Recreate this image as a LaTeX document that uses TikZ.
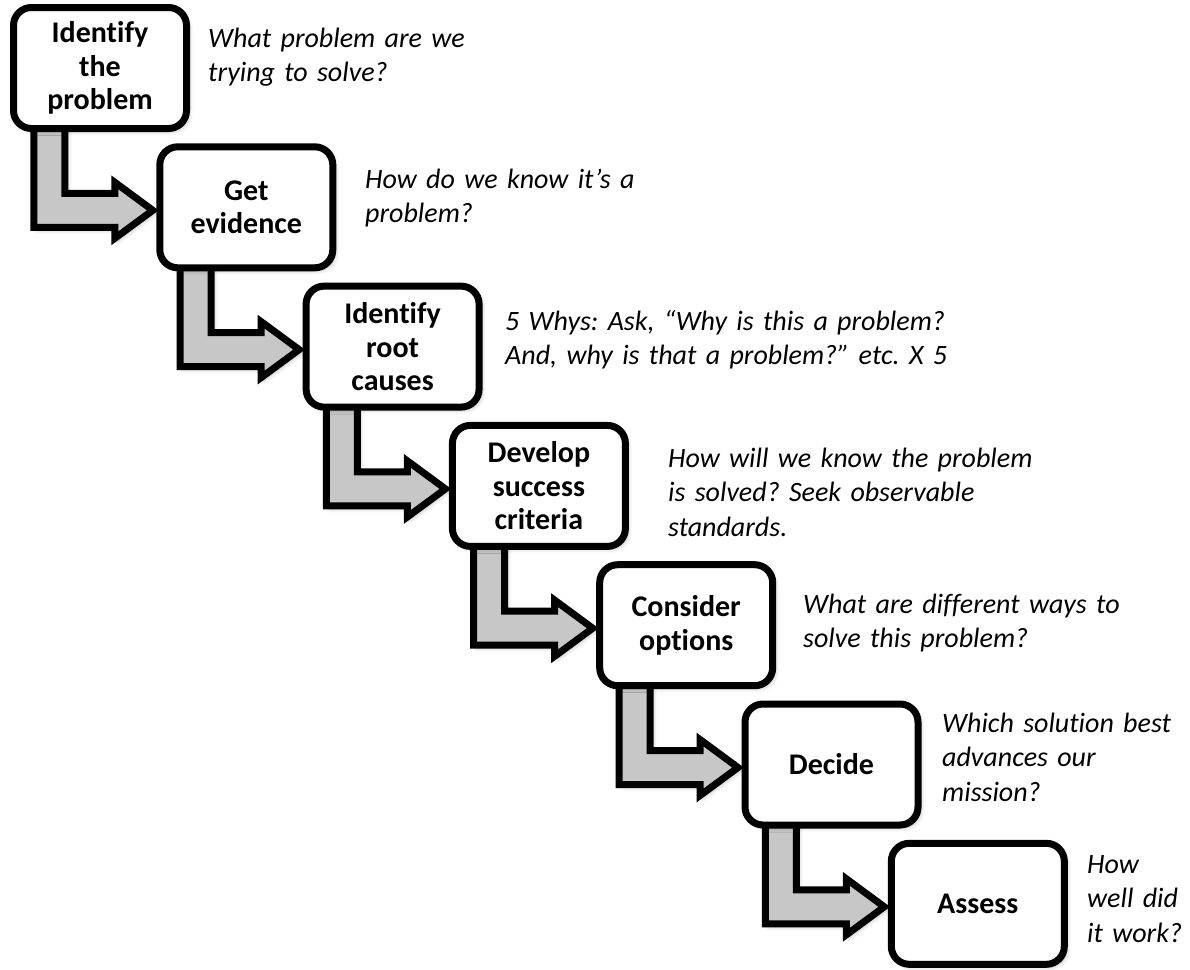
\documentclass[tikz,border=0pt]{standalone}
\usepackage{fontspec}
\setmainfont{Carlito}[Ligatures={TeX,NoCommon},ItalicFeatures={WordSpace=0.8}]
\usetikzlibrary{calc,shadows.blur,backgrounds}
\frenchspacing
\begin{document}
\begin{tikzpicture}[x=1pt,y=1pt,
  softshadow/.style={blur shadow={shadow xshift=3pt, shadow yshift=-3pt, shadow blur radius=4pt, shadow opacity=25}},
  stepbox/.style={draw=black, line width=7pt, rounded corners=18pt, fill=white,
    minimum width=173pt, minimum height=121pt, inner sep=0pt, outer sep=0pt,
    align=center, font=\bfseries\fontsize{30}{33.5}\selectfont, softshadow},
  note/.style={anchor=base west, inner sep=0pt, text width=#1, align=left,
    font=\itshape\fontsize{28}{34.5}\selectfont},
  note/.default=600pt,
  flowarrow/.style={draw=black, line width=7pt, line join=miter, fill=black!22, softshadow}
]
\useasboundingbox (0,0) rectangle (1190,-969);

\node[stepbox] (b1) at (100,-68) {Identify\\the\\problem};
\node[stepbox] (b2) at (246.3,-207.3) {Get\\evidence};
\node[stepbox] (b3) at (392.6,-346.6) {Identify\\root\\causes};
\node[stepbox] (b4) at (538.9,-485.9) {Develop\\success\\criteria};
\node[stepbox] (b5) at (686.2,-625.2) {Consider\\options};
\node[stepbox] (b6) at (831.5,-764.5) {Decide};
\node[stepbox] (b7) at (977.8,-903.8) {Assess};

\begin{scope}[on background layer]
\foreach \i/\j in {1/2,2/3,3/4,4/5,5/6,6/7}{
  \draw[flowarrow] let \p1=(b\i.south), \p2=(b\j.west) in
    (\x2-126,\y1+10) -- (\x2-126,\y2-20) -- (\x2-45,\y2-20) -- (\x2-45,\y2-31)
    -- (\x2-7,\y2-3) -- (\x2-45,\y2+25) -- (\x2-45,\y2+14) -- (\x2-95,\y2+14)
    -- (\x2-95,\y1+10) -- cycle;
}
\end{scope}

\node[note] (t1) at (208,-47) {What problem are we\\trying to solve?};
\node[note] (t2) at (365,-188) {How do we know it’s a\\problem?};
\node[note] (t3) at (505,-330) {5 Whys: Ask, “Why is this a problem?\\And, why is that a problem?” etc. X 5};
\node[note] (t4) at (668,-467) {How will we know the problem\\is solved? Seek observable\\standards.};
\node[note=380pt] (t5) at (803,-613) {What are different ways to\\solve this problem?};
\node[note=240pt] (t6) at (942,-732) {Which solution best\\advances our\\mission?};
\node[note=100pt] (t7) at (1087,-873) {How\\well did\\it work?};
\end{tikzpicture}
\end{document}
